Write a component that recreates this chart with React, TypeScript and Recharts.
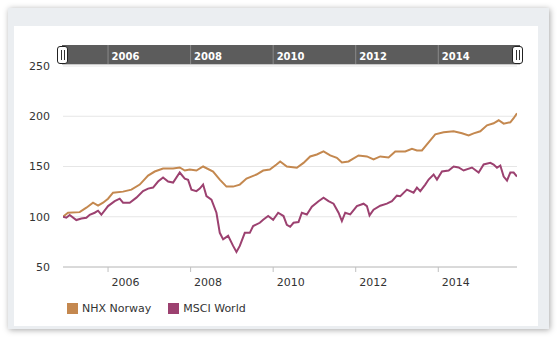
import React from 'react';
import { LineChart, Line, XAxis, YAxis, CartesianGrid } from 'recharts';

const nhxDates = [
  2004.909, 2005.03, 2005.313, 2005.475, 2005.636, 2005.758, 2005.879, 2006.0, 2006.121, 2006.364,
  2006.566, 2006.768, 2006.97, 2007.131, 2007.333, 2007.576, 2007.737, 2007.859, 2007.98, 2008.141,
  2008.303, 2008.545, 2008.707, 2008.869, 2009.03, 2009.192, 2009.354, 2009.596, 2009.758, 2009.919,
  2010.081, 2010.17, 2010.331, 2010.574, 2010.735, 2010.897, 2011.059, 2011.22, 2011.382, 2011.543,
  2011.665, 2011.826, 2012.069, 2012.271, 2012.432, 2012.594, 2012.796, 2012.958, 2013.2, 2013.362,
  2013.483, 2013.604, 2013.766, 2013.927, 2014.129, 2014.372, 2014.574, 2014.735, 2014.857, 2015.018,
  2015.18, 2015.341, 2015.463, 2015.584, 2015.745, 2015.826, 2015.907,
];
const nhxValues = [
  100, 104, 104.6, 109, 114, 111, 114, 118, 124, 125,
  127, 132, 141, 145, 148, 148, 149, 146, 147, 146,
  150, 145, 137, 130, 130, 132, 138, 142, 146, 147,
  152, 155, 150, 148.7, 153.6, 160, 162, 165, 161, 158.6,
  154, 155, 161, 160, 157, 160, 159, 165, 165, 167.5,
  166, 166, 174, 182, 184, 185, 183, 181, 183, 185,
  191, 193, 196, 192.6, 194, 198, 203,
];

const msciDates = [
  2004.909, 2004.99, 2005.071, 2005.232, 2005.354, 2005.475, 2005.556, 2005.677, 2005.758, 2005.838,
  2006.0, 2006.162, 2006.283, 2006.364, 2006.525, 2006.687, 2006.848, 2006.97, 2007.091, 2007.212,
  2007.333, 2007.455, 2007.576, 2007.737, 2007.859, 2007.939, 2008.02, 2008.141, 2008.222, 2008.303,
  2008.384, 2008.505, 2008.626, 2008.707, 2008.788, 2008.909, 2009.03, 2009.111, 2009.192, 2009.313,
  2009.434, 2009.515, 2009.677, 2009.758, 2009.879, 2010.0, 2010.121, 2010.251, 2010.331, 2010.412,
  2010.493, 2010.614, 2010.695, 2010.816, 2010.937, 2011.099, 2011.22, 2011.341, 2011.463, 2011.584,
  2011.665, 2011.745, 2011.867, 2012.028, 2012.19, 2012.271, 2012.335, 2012.432, 2012.594, 2012.755,
  2012.877, 2012.998, 2013.079, 2013.24, 2013.402, 2013.483, 2013.564, 2013.685, 2013.766, 2013.887,
  2013.968, 2014.089, 2014.251, 2014.372, 2014.493, 2014.614, 2014.816, 2014.978, 2015.099, 2015.261,
  2015.341, 2015.422, 2015.503, 2015.584, 2015.665, 2015.745, 2015.826, 2015.907,
];
const msciValues = [
  100, 99, 101.7, 96.7, 98.3, 99, 102, 104, 106, 102,
  110.6, 115.5, 118, 114, 114, 119, 125.5, 128, 129, 135,
  139, 135, 134, 144, 138, 136.7, 127, 125.5, 128, 132,
  120.5, 117, 104, 84, 77.5, 81, 71, 65, 71, 84,
  84, 90.7, 94, 97, 100.7, 97, 104, 100.7, 92, 90,
  94, 94.7, 104, 102.3, 110, 115.5, 119, 115.5, 113, 104,
  95.7, 104, 102.3, 110.6, 113, 110.6, 101.3, 107, 111, 113,
  115.5, 121, 120.5, 127, 124, 129, 125.5, 132, 137, 142,
  137, 145, 146, 150, 149, 146, 149, 144, 152, 153.6,
  152, 148.7, 151, 140, 136, 144, 144, 140,
];

const seriesNames = ['NHX Norway', 'MSCI World'];
const yTicks = [50, 100, 150, 200, 250];
const xTicks = [2006, 2008, 2010, 2012, 2014];

const COLORS = ['#c4884f', '#9c4170'];
const FONT = "'DejaVu Sans', Verdana, sans-serif";

const nhxData = nhxDates.map((t, i) => ({ t, v: nhxValues[i] }));
const msciData = msciDates.map((t, i) => ({ t, v: msciValues[i] }));
const seriesData = [nhxData, msciData];
const xDomain: [number, number] = [
  Math.min(nhxDates[0], msciDates[0]),
  Math.max(nhxDates[nhxDates.length - 1], msciDates[msciDates.length - 1]),
];

const BottomTick = (props: any) => {
  const { x, y, payload } = props;
  return (
    <text x={x + 3.5} y={y + 12.3} fill="#333" fontSize={11} fontFamily={FONT} textAnchor="start">
      {payload.value}
    </text>
  );
};

const NavTick = (props: any) => {
  const { x, y, payload } = props;
  return (
    <g>
      <line x1={x} x2={x} y1={y - 21} y2={y - 2} stroke="#8a8a8a" strokeWidth={1} />
      <text x={x + 3.5} y={y - 6.4} fill="#ffffff" fontSize={10} fontWeight="bold" fontFamily={FONT} textAnchor="start">
        {payload.value}
      </text>
    </g>
  );
};

const Handle = ({ left }: { left: number }) => (
  <div
    style={{
      position: 'absolute',
      left,
      top: 46,
      width: 11,
      height: 18,
      boxSizing: 'border-box',
      border: '1px solid #222',
      borderRadius: 3,
      background: '#fff',
    }}
  >
    <div style={{ position: 'absolute', left: 3, top: 3, width: 1, height: 10, background: '#333' }} />
    <div style={{ position: 'absolute', left: 6, top: 3, width: 1, height: 10, background: '#333' }} />
  </div>
);

export default function App() {
  return (
    <div style={{ position: 'absolute', left: 0, top: 0, width: 558, height: 337, fontFamily: FONT, overflow: 'hidden' }}>
      <div
        style={{
          position: 'absolute',
          left: 8,
          top: 8,
          width: 541,
          height: 321,
          background: '#ebeef1',
          boxShadow: '1px 1px 6px rgba(0,0,0,0.35)',
        }}
      />
      <div style={{ position: 'absolute', left: 14, top: 26, width: 524, height: 300, background: '#ffffff' }} />
      <div
        style={{
          position: 'absolute',
          left: 62,
          top: 45,
          width: 458,
          height: 19,
          background: '#5c5c5c',
          borderBottom: '1px solid #c8c8c8',
        }}
      />
      <div style={{ position: 'absolute', left: 0, top: 0 }}>
        <LineChart width={558} height={337} margin={{ top: 45, right: 41, bottom: 40, left: 13 }}>
          <CartesianGrid horizontal vertical={false} stroke="#e6e6e6" xAxisId="main" />
          <XAxis
            xAxisId="nav"
            orientation="top"
            type="number"
            dataKey="t"
            domain={xDomain}
            ticks={xTicks}
            height={21}
            axisLine={false}
            tickLine={false}
            tickSize={0}
            tickMargin={0}
            tick={<NavTick />}
            allowDataOverflow
          />
          <XAxis
            xAxisId="main"
            type="number"
            dataKey="t"
            domain={xDomain}
            ticks={xTicks}
            height={30}
            axisLine={{ stroke: '#c0c0c0' }}
            tickLine={{ stroke: '#c0c0c0' }}
            tickSize={5}
            tickMargin={2}
            tick={<BottomTick />}
            allowDataOverflow
          />
          <YAxis
            type="number"
            domain={[50, 250]}
            ticks={yTicks}
            width={50}
            axisLine={false}
            tickLine={false}
            tickSize={0}
            tickMargin={13}
            tick={{ fill: '#333', fontSize: 11, fontFamily: FONT }}
          />
          {seriesData.map((d, i) => (
            <Line
              key={seriesNames[i]}
              xAxisId="main"
              data={d}
              dataKey="v"
              name={seriesNames[i]}
              stroke={COLORS[i]}
              strokeWidth={2}
              dot={false}
              type="linear"
              isAnimationActive={false}
            />
          ))}
        </LineChart>
      </div>
      <Handle left={57} />
      <Handle left={512} />
      <div
        style={{
          position: 'absolute',
          left: 67,
          top: 302,
          display: 'flex',
          alignItems: 'center',
          fontSize: 11,
          color: '#333',
          lineHeight: '13px',
        }}
      >
        {seriesNames.map((n, i) => (
          <div key={n} style={{ display: 'flex', alignItems: 'center', marginRight: 17 }}>
            <div style={{ width: 11, height: 11, background: COLORS[i], marginRight: 4 }} />
            <span>{n}</span>
          </div>
        ))}
      </div>
    </div>
  );
}
